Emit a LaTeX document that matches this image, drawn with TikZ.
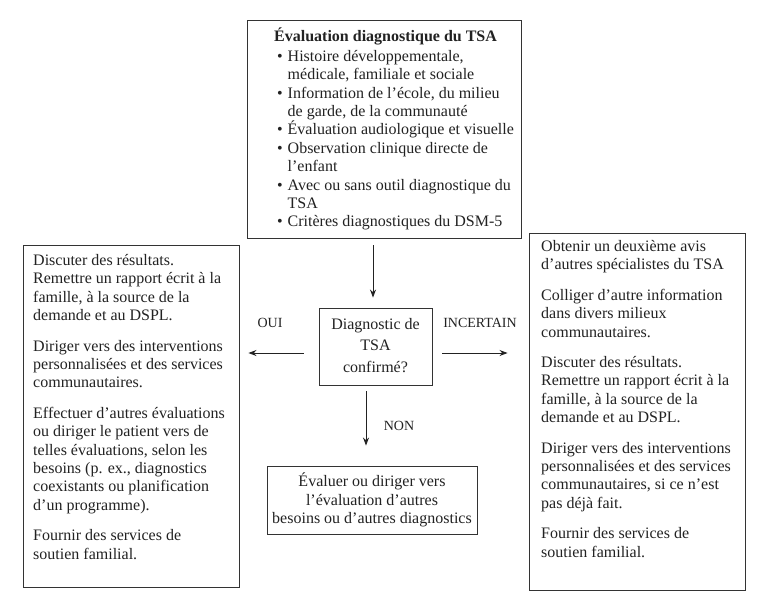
\documentclass[tikz,border=0pt]{standalone}
\usepackage{fontspec}
\setmainfont{Liberation Serif}
\usetikzlibrary{arrows.meta}
\newcommand\fsmain{\fontsize{16}{18.4}\selectfont}
\newcommand\fsmid{\fontsize{16}{21.5}\selectfont}
\newcommand\fslab{\fontsize{14}{16}\selectfont}
\newcommand\bul{\makebox[10.5pt][l]{\textbullet}}
\newcommand\ind{\hspace*{10.5pt}}
\definecolor{ink}{HTML}{222222}
\definecolor{edge}{HTML}{333333}
\begin{document}
\begin{tikzpicture}[x=1pt,y=-1pt,
  box/.style={draw=edge, line width=0.9pt, inner sep=0pt},
  txt/.style={inner sep=0pt, align=left, anchor=north west, font=\fsmain, text=ink},
  ctxt/.style={inner sep=0pt, align=center, anchor=center, text=ink},
  lab/.style={inner sep=0pt, font=\fslab, text=ink},
  arr/.style={-{Stealth[length=8pt,width=6pt]}, line width=0.9pt, draw=ink}]
\useasboundingbox[fill=white] (0,0) rectangle (768,606);

% boxes
\node[box, minimum width=274pt, minimum height=218pt] (top) at (384,129) {};
\node[box, minimum width=216pt, minimum height=342pt] (left) at (131,416) {};
\node[box, minimum width=216pt, minimum height=357pt] (right) at (637,411.5) {};
\node[box, minimum width=113pt, minimum height=77pt] (mid) at (375.5,346.5) {};
\node[box, minimum width=210pt, minimum height=68pt] (bot) at (372,500) {};

% texts
\node[txt] (toptxt) at (274,27.4) {\strut\textbf{Évaluation diagnostique du TSA}\\[1.6pt]
\hspace*{3pt}\bul Histoire développementale,\\
\hspace*{3pt}\ind médicale, familiale et sociale\\
\hspace*{3pt}\bul Information de l’école, du milieu\\
\hspace*{3pt}\ind de garde, de la communauté\\
\hspace*{3pt}\bul Évaluation audiologique et visuelle\\
\hspace*{3pt}\bul Observation clinique directe de\\
\hspace*{3pt}\ind l’enfant\\
\hspace*{3pt}\bul Avec ou sans outil diagnostique du\\
\hspace*{3pt}\ind TSA\\
\hspace*{3pt}\bul Critères diagnostiques du DSM-5};

\node[txt] (lefttxt) at (33,252.4) {\strut Discuter des résultats.\\
Remettre un rapport écrit à la\\
famille, à la source de la\\
demande et au DSPL.\\[12pt]
Diriger vers des interventions\\
personnalisées et des services\\
communautaires.\\[12pt]
Effectuer d’autres évaluations\\
ou diriger le patient vers de\\
telles évaluations, selon les\\
besoins (p. ex., diagnostics\\
coexistants ou planification\\
d’un programme).\\[12pt]
Fournir des services de\\
soutien familial.};

\node[txt] (righttxt) at (541,238.4) {\strut Obtenir un deuxième avis\\
d’autres spécialistes du TSA\\[12pt]
Colliger d’autre information\\
dans divers milieux\\
communautaires.\\[12pt]
Discuter des résultats.\\
Remettre un rapport écrit à la\\
famille, à la source de la\\
demande et au DSPL.\\[12pt]
Diriger vers des interventions\\
personnalisées et des services\\
communautaires, si ce n’est\\
pas déjà fait.\\[12pt]
Fournir des services de\\
soutien familial.};

\node[ctxt, font=\fsmid] (midtxt) at (375.5,345.5) {Diagnostic de\\TSA\\confirmé?};
\node[ctxt, font=\fsmain] (bottxt) at (372,500) {Évaluer ou diriger vers\\l’évaluation d’autres\\besoins ou d’autres diagnostics};

% labels
\node[lab] (oui) at (270,323) {OUI};
\node[lab] (inc) at (480,323) {INCERTAIN};
\node[lab] (non) at (399,426) {NON};

% arrows
\draw[arr] ([xshift=-11pt,yshift=-7pt]top.south) -- ([xshift=-2.5pt,yshift=10pt]mid.north);
\draw[arr] ([xshift=-15pt,yshift=-6.5pt]mid.west) -- ([xshift=9pt,yshift=63pt]left.east);
\draw[arr] ([xshift=10pt,yshift=-6.5pt]mid.east) -- ([xshift=-21pt,yshift=58.5pt]right.west);
\draw[arr] ([xshift=-9.5pt,yshift=-6pt]mid.south) -- ([xshift=-6pt,yshift=20pt]bot.north);
\end{tikzpicture}
\end{document}
